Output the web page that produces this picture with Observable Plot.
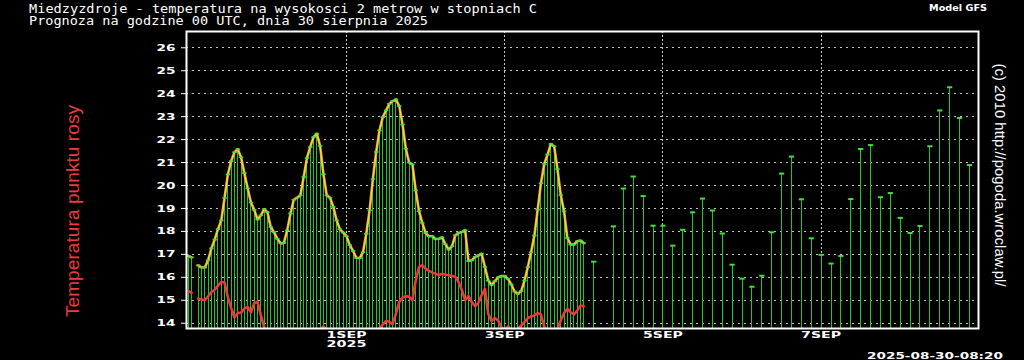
<!DOCTYPE html>
<html><head><meta charset="utf-8">
<script src="https://cdn.jsdelivr.net/npm/d3@7"></script>
<script src="https://cdn.jsdelivr.net/npm/@observablehq/plot@0.6"></script>
<style>
html,body{margin:0;padding:0;background:#000;}
#chart{width:1024px;height:360px;overflow:hidden;background:#000}
</style></head><body><div id="chart"></div>
<script>
// ---- data ----
const titleLine1 = "Miedzyzdroje - temperatura na wysokosci 2 metrow w stopniach C";
const titleLine2 = "Prognoza na godzine 00 UTC, dnia 30 sierpnia 2025";
const modelLabel = "Model GFS";
const dewLabel = "Temperatura punktu rosy";
const copyLabel = "(c) 2010 http://pogoda.wroclaw.pl/";
const stampLabel = "2025-08-30-08:20";

const runStart = Date.UTC(2025, 7, 30, 0);   // 30 Aug 2025 00 UTC
const HOUR = 3600e3;

// hourly temperature, hours 0..120 (null = missing)
const hourlyTemp = [
 16.93,16.87,null,16.52,16.43,16.43,16.74,17.26,17.64,18.10,
 18.48,19.46,20.48,21.06,21.45,21.58,21.23,20.54,19.88,19.26,
 18.94,18.52,18.70,18.97,18.84,18.19,17.97,17.68,17.48,17.50,
 18.05,18.78,19.38,19.47,19.57,20.37,21.20,21.68,22.11,22.26,
 21.72,20.49,19.57,19.47,19.07,18.48,18.09,17.95,17.79,17.40,
 17.15,16.84,16.84,17.09,17.90,18.92,20.28,21.46,22.40,22.98,
 23.27,23.56,23.68,23.75,23.46,22.66,21.60,21.00,20.92,19.79,
 18.88,18.37,17.93,17.79,17.79,17.67,17.68,17.74,17.44,17.21,
 17.35,17.83,17.93,17.98,18.05,16.71,16.74,16.89,16.95,17.03,
 16.45,15.86,15.67,15.83,16.00,16.05,16.06,15.93,15.69,15.38,
 15.28,15.40,15.86,16.44,17.09,17.82,18.95,20.10,20.94,21.35,
 21.81,21.71,20.72,19.59,18.88,17.72,17.43,17.43,17.57,17.60,
 17.49
];
// hourly dew point, hours 0..120
const hourlyDew = [
 15.41,15.32,null,15.07,15.03,15.00,15.17,15.36,15.46,15.64,
 15.80,15.77,15.14,14.67,14.25,14.45,14.46,14.64,14.71,14.46,
 14.88,14.93,14.35,13.84,13.50,13.30,13.20,13.10,13.00,12.90,
 12.90,13.00,13.10,13.20,13.30,13.30,13.20,13.20,13.30,13.50,
 13.70,13.86,13.70,13.50,13.40,13.30,13.20,13.10,13.00,13.00,
 13.10,13.20,13.30,13.30,13.40,13.50,13.50,13.60,13.76,13.95,
 14.10,14.06,13.96,14.42,14.93,15.12,15.18,15.15,15.00,15.87,
 16.45,16.53,16.38,16.28,16.21,16.16,16.09,16.16,16.12,16.09,
 16.06,16.02,15.80,15.44,15.00,15.18,14.93,14.74,14.89,15.22,
 15.50,14.40,14.10,14.23,14.12,13.83,13.70,13.86,13.70,13.60,
 13.75,13.90,14.05,14.23,14.29,14.34,14.44,14.38,13.83,13.60,
 13.50,13.55,13.75,14.12,14.44,14.63,14.48,14.38,14.55,14.77,
 14.74
];
// 3-hourly temperature from hour 123 to 237
const threeHourFirst = 123;
const threeHourTemp = [
 16.68,null,18.22,19.87,20.39,19.54,18.25,18.25,17.38,18.07,
 18.83,19.43,18.91,17.91,16.55,15.94,15.59,16.07,17.96,20.52,
 21.26,19.40,17.70,16.98,16.60,16.93,19.41,21.59,21.76,19.49,
 19.67,18.59,17.93,18.24,21.71,23.27,24.28,22.94,20.89
];
const yTicks = [14,15,16,17,18,19,20,21,22,23,24,25,26];
const dayTickDates = ["2025-09-01","2025-09-03","2025-09-05","2025-09-07"];
const dayTickLabels = ["1SEP","3SEP","5SEP","7SEP"];
const yearLabel = "2025";

// ---- tables ----
const hourly = hourlyTemp.map((t, i) => ({date: new Date(runStart + i*HOUR), temp: t, dew: hourlyDew[i]}));
const threeHour = threeHourTemp.map((t, i) => ({date: new Date(runStart + (threeHourFirst + 3*i)*HOUR), temp: t}));
const bars = hourly.concat(threeHour).filter(d => d.temp != null);
const dayDates = dayTickDates.map(s => new Date(s + "T00:00:00Z"));
const dayLabelMap = new Map(dayDates.map((d, i) => [+d, dayTickLabels[i]]));

const yMin = 13.77, yMax = 26.71;
const capSmall = {draw(ctx){ ctx.rect(-2.2, -0.8, 4.4, 1.6); }};
const capBig = {draw(ctx){ ctx.rect(-2.6, -1, 5.2, 2); }};

const plot = Plot.plot({
  width: 1024, height: 360,
  marginLeft: 186, marginRight: 46, marginTop: 31, marginBottom: 32,
  style: {background: "#000", color: "#fff", fontFamily: "DejaVu Sans", overflow: "visible"},
  x: {type: "utc", domain: [new Date(runStart - 0.55*HOUR), new Date(runStart + 239.75*HOUR)]},
  y: {domain: [yMin, yMax]},
  marks: [
    Plot.ruleY(yTicks, {stroke: "#c4c4c4", strokeDasharray: "2,4", strokeWidth: 1, shapeRendering: "crispEdges"}),
    Plot.ruleX(dayDates, {stroke: "#c8c8c8", strokeDasharray: "2,2", strokeWidth: 1, shapeRendering: "crispEdges"}),
    Plot.ruleX(bars, {x: "date", y1: yMin, y2: "temp", stroke: "#22c622", strokeWidth: 1, shapeRendering: "crispEdges"}),
    Plot.line(hourly, {x: "date", y: "dew", stroke: "#f03838", strokeWidth: 2.6, clip: true}),
    Plot.line(hourly, {x: "date", y: "temp", stroke: "#eca52c", strokeWidth: 2.6}),
    Plot.line(hourly, {x: "date", y: "temp", stroke: "#f0ea50", strokeWidth: 0.9}),
    Plot.dot(hourly, {x: "date", y: "temp", symbol: capSmall, fill: "#44e044", stroke: "none"}),
    Plot.dot(threeHour, {x: "date", y: "temp", symbol: capBig, fill: "#3ee03e", stroke: "none"}),
    Plot.frame({stroke: "#fff", strokeWidth: 2}),
    Plot.axisY({ticks: yTicks, tickSize: 5, tickPadding: 6, stroke: "#fff", fill: "#fff", label: null, tickFormat: d => String(d)}),
    Plot.axisX({ticks: dayDates, tickSize: 0, tickPadding: 3, fill: "#fff", label: null, tickFormat: d => dayLabelMap.get(+d)}),
    Plot.axisX({ticks: [dayDates[0]], tickSize: 0, tickPadding: 12, fill: "#fff", label: null, tickFormat: () => yearLabel})
  ]
});
document.getElementById("chart").appendChild(plot);

// ---- text styling & annotations ----
const svg = d3.select(plot);
svg.selectAll('g[aria-label="y-axis tick label"] text')
  .attr("font-family", "DejaVu Sans").attr("font-weight", "bold").attr("font-size", 9.5)
  .attr("textLength", 19).attr("lengthAdjust", "spacingAndGlyphs");
svg.selectAll('g[aria-label="x-axis tick label"] text')
  .attr("font-family", "DejaVu Sans").attr("font-weight", "bold").attr("font-size", 9.5)
  .attr("textLength", 40).attr("lengthAdjust", "spacingAndGlyphs");

function addText(txt, o) {
  const t = svg.append("text").text(txt)
    .attr("x", o.x).attr("y", o.y)
    .attr("fill", o.fill || "#fff")
    .attr("font-family", o.family)
    .attr("font-size", o.size)
    .attr("font-weight", o.weight || "normal")
    .attr("text-anchor", o.anchor || "start");
  if (o.len) t.attr("textLength", o.len).attr("lengthAdjust", o.adjust || "spacing");
  if (o.rotate) t.attr("transform", `rotate(${o.rotate},${o.x},${o.y})`);
  return t;
}
addText(titleLine1, {x: 29, y: 12.5, family: "DejaVu Sans Mono", size: 12.2, len: 508, adjust: "spacingAndGlyphs"});
addText(titleLine2, {x: 29, y: 25.3, family: "DejaVu Sans Mono", size: 12.2, len: 399, adjust: "spacingAndGlyphs"});
addText(modelLabel, {x: 929, y: 11, family: "DejaVu Sans", size: 8.5, weight: "bold", len: 58, adjust: "spacingAndGlyphs"});
addText(dewLabel, {x: 79, y: 211, family: "Liberation Sans", size: 19, anchor: "middle", rotate: -90, fill: "#ee3a3a", len: 212});
addText(copyLabel, {x: 995, y: 175, family: "Liberation Sans", size: 14.8, anchor: "middle", rotate: 90, len: 223});
addText(stampLabel, {x: 867, y: 358.5, family: "DejaVu Sans", size: 8.5, weight: "bold", len: 136, adjust: "spacingAndGlyphs"});
</script></body></html>
